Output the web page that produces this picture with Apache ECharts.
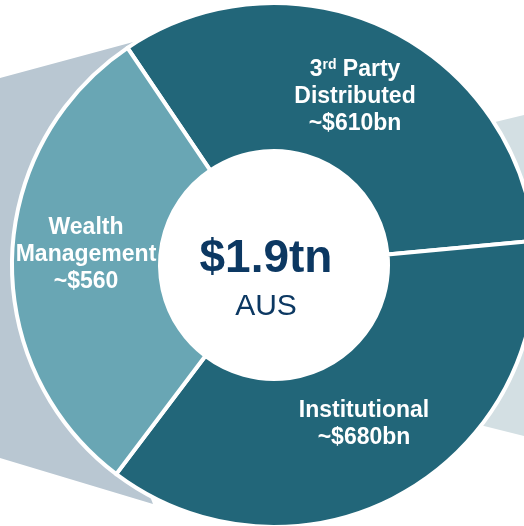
<!DOCTYPE html>
<html>
<head>
<meta charset="utf-8">
<script src="https://cdn.jsdelivr.net/npm/echarts@6/dist/echarts.min.js"></script>
<style>
  html, body { margin: 0; padding: 0; background: #ffffff; }
  #chart { width: 524px; height: 526px; }
</style>
</head>
<body>
<div id="chart"></div>
<script>
  // AUS by channel, in $bn
  var channels = ['3rd Party Distributed', 'Institutional', 'Wealth Management'];
  var values = [610, 680, 560];
  var valueLabels = ['~$610bn', '~$680bn', '~$560'];
  var totalLabel = '$1.9tn';
  var totalSub = 'AUS';

  var colors = ['#226679', '#226679', '#69a6b4'];
  // where each label block sits (centre x, first line y)
  var labelPos = [[355, 70], [364, 411], [86, 228]];
  var lineGap = 27;

  var cx = 274, cy = 265;
  var labelFont = 'bold 23px "Liberation Sans", Arial, sans-serif';

  var myChart = echarts.init(document.getElementById('chart'));

  var graphics = [
    {
      type: 'polygon', z: 0,
      shape: { points: [[0, 78], [200, 24], [60, 265], [153, 504], [0, 458]] },
      style: { fill: '#b9c7d2' }
    },
    {
      type: 'polygon', z: 0,
      shape: { points: [[400, 145], [524, 115], [524, 436], [400, 405]] },
      style: { fill: '#d3dfe3' }
    },
    {
      type: 'text', z: 100, x: 266, y: 259,
      style: {
        text: totalLabel, fill: '#0c3862', align: 'center', verticalAlign: 'middle',
        font: 'bold 46px "Liberation Sans", Arial, sans-serif'
      }
    },
    {
      type: 'text', z: 100, x: 266, y: 307,
      style: {
        text: totalSub, fill: '#0c3862', align: 'center', verticalAlign: 'middle',
        font: '30px "Liberation Sans", Arial, sans-serif'
      }
    }
  ];

  channels.forEach(function (name, i) {
    var lines;
    if (i === 0) {
      lines = ['{n|3}{sup|rd}{n| Party}', 'Distributed', valueLabels[i]];
    } else if (i === 2) {
      lines = ['Wealth', 'Management', valueLabels[i]];
    } else {
      lines = [name, valueLabels[i]];
    }
    lines.forEach(function (txt, k) {
      graphics.push({
        type: 'text', z: 100,
        x: labelPos[i][0], y: labelPos[i][1] + k * lineGap,
        style: {
          text: txt, fill: '#ffffff', align: 'center', verticalAlign: 'middle',
          font: labelFont,
          rich: {
            n: { fill: '#ffffff', font: labelFont },
            sup: {
              fill: '#ffffff', font: 'bold 14px "Liberation Sans", Arial, sans-serif',
              padding: [0, 0, 10, 0]
            }
          }
        }
      });
    });
  });

  var option = {
    backgroundColor: '#ffffff',
    animation: false,
    graphic: graphics,
    series: [{
      type: 'pie',
      center: [cx, cy],
      radius: [114, 262],
      startAngle: 124,
      clockwise: true,
      silent: true,
      label: { show: false },
      labelLine: { show: false },
      itemStyle: {
        borderColor: '#ffffff',
        borderWidth: 4
      },
      data: channels.map(function (name, i) {
        return { name: name, value: values[i], itemStyle: { color: colors[i] } };
      })
    }]
  };
  myChart.setOption(option);
</script>
</body>
</html>
